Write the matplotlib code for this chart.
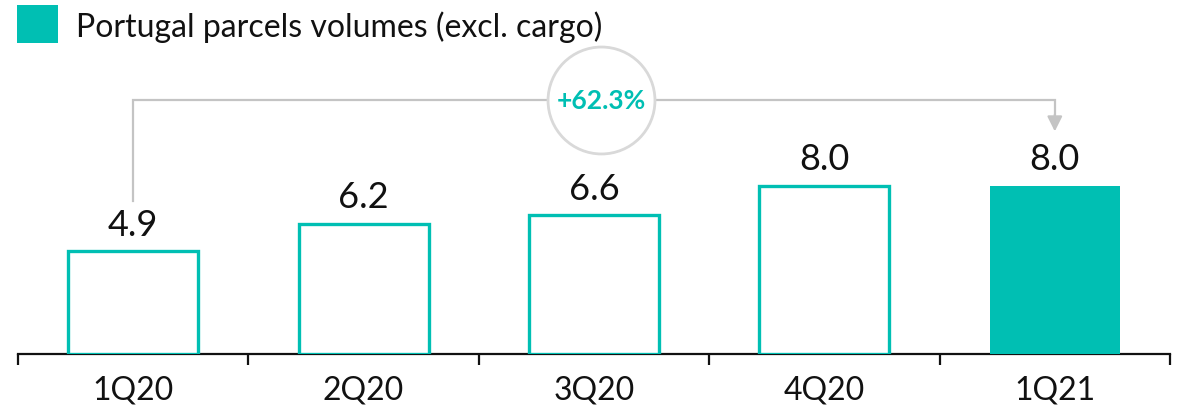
import matplotlib
matplotlib.use("Agg")
import matplotlib.pyplot as plt
from matplotlib.patches import Rectangle

# Quarterly volumes (millions of parcels)
quarters = ["1Q20", "2Q20", "3Q20", "4Q20", "1Q21"]
volumes = [4.9, 6.2, 6.6, 8.0, 8.0]
value_labels = ["4.9", "6.2", "6.6", "8.0", "8.0"]
growth_label = "+62.3%"
legend_label = "Portugal parcels volumes (excl. cargo)"

TEAL = "#00BFB3"
GREY = "#C4C4C4"
CIRCLE_EDGE = "#D9D9D9"

plt.rcParams["font.family"] = ["Lato", "DejaVu Sans"]

fig = plt.figure(figsize=(11.83, 4.14), dpi=100)
ax = fig.add_axes([18 / 1183, 59 / 414, 1152 / 1183, 355 / 414])

n = len(quarters)
x = list(range(n))
ax.set_xlim(-0.5, n - 0.5)
ax.set_ylim(0, 355 / 21)

# Bars: outlined for 2020 quarters, filled for the latest quarter
for i, v in enumerate(volumes):
    filled = i == n - 1
    ax.bar(i, v, width=0.565, color=TEAL if filled else "white",
           edgecolor=TEAL, linewidth=0 if filled else 2.4, zorder=3)
    ax.text(i, v + 0.5, value_labels[i], ha="center", va="bottom",
            fontsize=26, color="#111111", zorder=4)

# Axis styling
for s in ["top", "right", "left"]:
    ax.spines[s].set_visible(False)
ax.spines["bottom"].set_linewidth(1.6)
ax.spines["bottom"].set_color("#111111")
ax.set_yticks([])
ax.set_xticks([i - 0.5 for i in range(n + 1)], minor=False)
ax.set_xticklabels([])
ax.tick_params(axis="x", which="major", length=8, width=1.6, color="#111111", direction="out")
ax.set_xticks(x, minor=True)
ax.set_xticklabels(quarters, minor=True, fontsize=23, color="#111111")
ax.tick_params(axis="x", which="minor", length=0, pad=15)

# Growth bracket from first to last quarter
y_top = 12.1
start_y = volumes[0] + 2.4
end_y = volumes[-1] + 2.6
ax.plot([x[0], x[0], x[-1], x[-1]], [start_y, y_top, y_top, end_y + 0.45],
        color=GREY, linewidth=1.6, zorder=2, solid_joinstyle="miter")
ax.annotate("", xy=(x[-1], end_y), xytext=(x[-1], end_y + 0.8),
            arrowprops=dict(arrowstyle="-|>,head_length=0.9,head_width=0.45",
                            color=GREY, linewidth=1.6, shrinkA=0, shrinkB=0), zorder=2)

cx = 2.03
ax.scatter([cx], [y_top], s=77 ** 2, facecolor="white", edgecolor=CIRCLE_EDGE,
           linewidth=2, zorder=5)
ax.text(cx, y_top, growth_label, ha="center", va="center", fontsize=19,
        fontweight="bold", color=TEAL, zorder=6)

# Legend
fig.patches.append(Rectangle((17 / 1183, 1 - 44 / 414), 41 / 1183, 38 / 414,
                             transform=fig.transFigure, facecolor=TEAL,
                             edgecolor="none"))
fig.text(76 / 1183, 1 - 27 / 414, legend_label, ha="left", va="center",
         fontsize=23, color="#111111")

fig.savefig("out.png", dpi=100)
